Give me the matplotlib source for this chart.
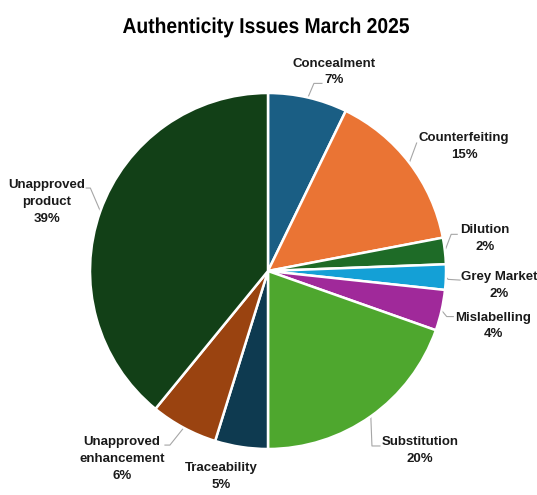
import numpy as np
import matplotlib
matplotlib.use("Agg")
import matplotlib.pyplot as plt
from matplotlib.textpath import TextPath
from matplotlib.patches import PathPatch
from matplotlib.font_manager import FontProperties
from matplotlib.transforms import Affine2D

plt.rcParams['font.family'] = ['Liberation Sans', 'DejaVu Sans']

# share of authenticity issues, March 2025 (percent)
categories = ["Concealment", "Counterfeiting", "Dilution", "Grey Market",
              "Mislabelling", "Substitution", "Traceability",
              "Unapproved\nenhancement", "Unapproved\nproduct"]
shares = [7.2, 14.8, 2.4, 2.3, 3.7, 19.6, 4.8, 6.1, 39.1]
colors = ["#1a5e84", "#ea7434", "#1e6b27", "#14a0d6", "#a0299a",
          "#4ea72e", "#0e3a50", "#9a4310", "#124017"]
title = "Authenticity Issues March 2025"

# label centres and leader elbows (pie radius = 1)
label_pos = [(0.371, 1.118), (1.101, 0.697), (1.219, 0.180), (1.298, -0.079),
             (1.264, -0.309), (0.854, -1.011), (-0.264, -1.152),
             (-0.820, -1.056), (-1.242, 0.388)]
leader_pts = [
    [(0.258, 1.054), (0.303, 1.054)],
    [(0.835, 0.719)],
    [(1.029, 0.206), (1.063, 0.206)],
    [(1.012, -0.047), (1.079, -0.051)],
    [(1.004, -0.256), (1.041, -0.256)],
    [(0.584, -0.983), (0.629, -0.983)],
    None,
    [(-0.551, -0.978), (-0.579, -0.978)],
    [(-0.998, 0.466), (-1.021, 0.466)],
]

fig = plt.figure(figsize=(5.37, 4.95), dpi=100)
ax = fig.add_axes([0, 0, 1, 1])

wedges, _ = ax.pie(shares, colors=colors, startangle=90, counterclock=False,
                   radius=1, wedgeprops=dict(edgecolor="white", linewidth=1.8))

total = sum(shares)
for w, name, v, pos, pts in zip(wedges, categories, shares, label_pos, leader_pts):
    ax.text(pos[0], pos[1], f"{name}\n{v / total * 100:.0f}%", ha="center", va="center",
            fontsize=9.5, fontweight="bold", color="#1a1a1a", linespacing=1.55)
    if pts is None:
        continue
    mid = np.deg2rad((w.theta1 + w.theta2) / 2)
    xs = [np.cos(mid)] + [p[0] for p in pts]
    ys = [np.sin(mid)] + [p[1] for p in pts]
    ax.plot(xs, ys, color="#a6a6a6", lw=0.8, zorder=0)

ax.set_xlim(-268 / 178, (537 - 268) / 178)
ax.set_ylim((271 - 495) / 178, 271 / 178)
ax.set_aspect("auto")
ax.axis("off")

# title drawn as a path so it can be set a little condensed
tp = TextPath((0, 0), title, size=15.5, prop=FontProperties(family="Liberation Sans", weight="bold"))
ext = tp.get_extents()
sx = 2.86 / (ext.width / 72)
tr = (Affine2D().translate(-(ext.x0 + ext.width / 2), 0)
      .scale(sx / 72, 1 / 72).translate(2.66, 4.62) + fig.dpi_scale_trans)
fig.patches.append(PathPatch(tp, transform=tr, color="black", lw=0))

plt.savefig("out.png", dpi=100)
